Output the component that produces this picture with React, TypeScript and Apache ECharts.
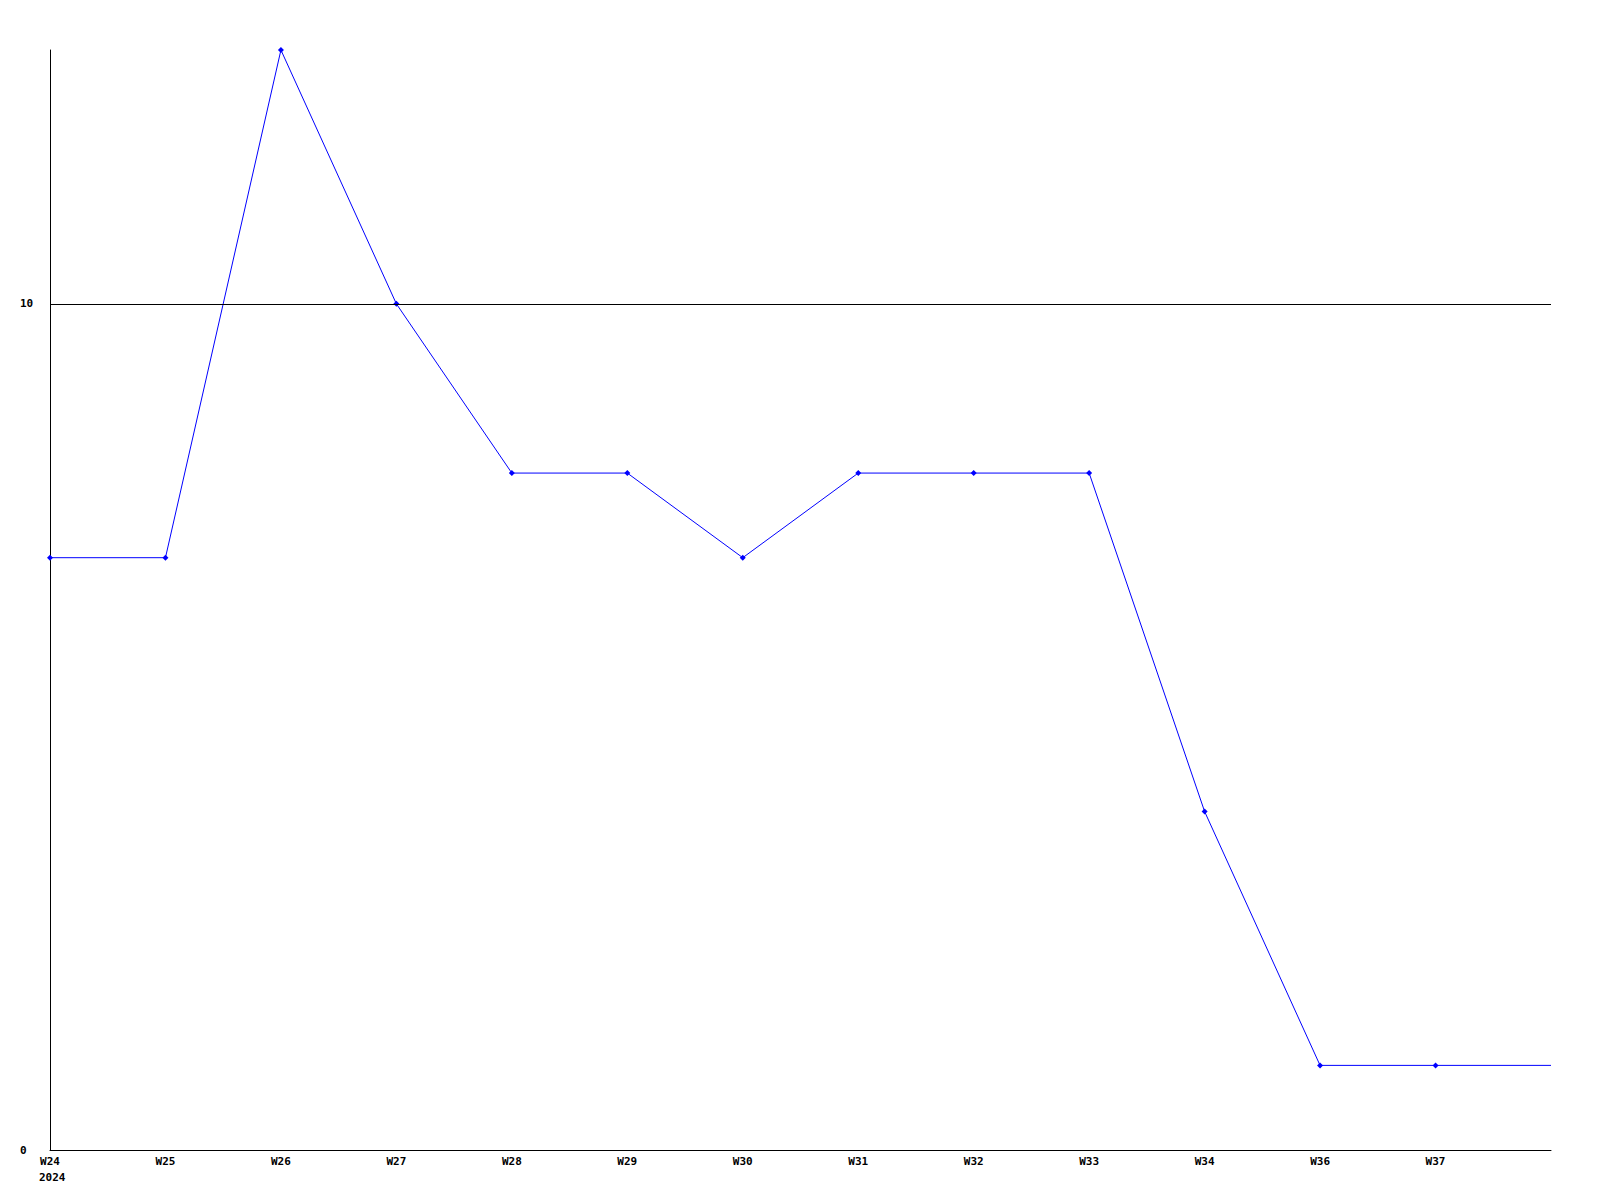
import React, { useEffect, useRef } from "react";
import * as echarts from "echarts";

const weeks = ["W24", "W25", "W26", "W27", "W28", "W29", "W30", "W31", "W32", "W33", "W34", "W36", "W37", ""];
const counts = [7, 7, 13, 10, 8, 8, 7, 8, 8, 8, 4, 1, 1, 1];
const yearLabel = "2024";
const yMax = 13;
const refLine = 10;

const FONT = "'DejaVu Sans Mono', 'Liberation Mono', monospace";

export default function App() {
  const ref = useRef<HTMLDivElement>(null);
  useEffect(() => {
    document.body.style.margin = "0";
    const chart = echarts.init(ref.current!, null, { renderer: "svg" });
    const seriesData = counts.map((v, i) =>
      weeks[i] === "" ? { value: v, symbol: "none" } : { value: v }
    );
    chart.setOption({
      animation: false,
      backgroundColor: "#ffffff",
      grid: { left: 50, right: 49, top: 50, bottom: 50, containLabel: false },
      xAxis: {
        type: "category",
        data: weeks,
        boundaryGap: false,
        axisLine: { show: true, lineStyle: { color: "#000", width: 1 } },
        axisTick: { show: false },
        axisLabel: {
          interval: 0,
          margin: 6,
          color: "#000",
          fontFamily: FONT,
          fontWeight: "bold",
          fontSize: 11,
        },
        splitLine: { show: false },
      },
      yAxis: {
        type: "value",
        min: 0,
        max: yMax,
        interval: 10,
        axisLine: { show: true, lineStyle: { color: "#000", width: 1 } },
        axisTick: { show: false },
        axisLabel: {
          align: "left",
          margin: 30,
          color: "#000",
          fontFamily: FONT,
          fontWeight: "bold",
          fontSize: 11,
          formatter: (v: number) => (v % 10 === 0 ? String(v) : ""),
        },
        splitLine: { show: false },
      },
      graphic: [
        {
          type: "text",
          left: 39,
          top: 1172,
          style: {
            text: yearLabel,
            fill: "#000",
            font: `bold 11px ${FONT}`,
          },
        },
      ],
      series: [
        {
          type: "line",
          data: seriesData,
          symbol: "diamond",
          symbolSize: 6,
          showAllSymbol: true,
          lineStyle: { color: "#0000ff", width: 1 },
          itemStyle: { color: "#0000ff" },
          markLine: {
            silent: true,
            symbol: ["none", "none"],
            label: { show: false },
            lineStyle: { color: "#000", width: 1, type: "solid" },
            data: [{ yAxis: refLine }],
          },
        },
      ],
    });
    return () => chart.dispose();
  }, []);
  return <div ref={ref} style={{ width: 1600, height: 1200 }} />;
}
